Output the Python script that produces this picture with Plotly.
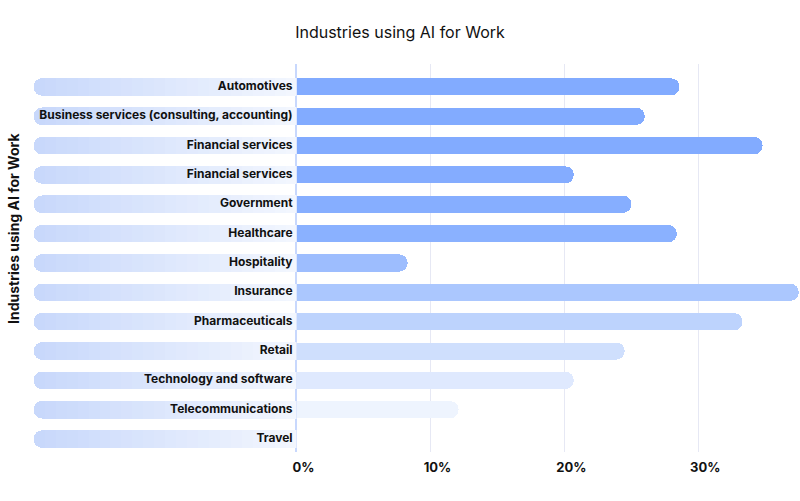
import plotly.graph_objects as go

title = "Industries using AI for Work"
axis_title = "Industries using AI for Work"
categories = [
    "Automotives",
    "Business services (consulting, accounting)",
    "Financial services",
    "Financial services (2)",
    "Government",
    "Healthcare",
    "Hospitality",
    "Insurance",
    "Pharmaceuticals",
    "Retail",
    "Technology and software",
    "Telecommunications",
    "Travel",
]
labels = [
    "Automotives",
    "Business services (consulting, accounting)",
    "Financial services",
    "Financial services",
    "Government",
    "Healthcare",
    "Hospitality",
    "Insurance",
    "Pharmaceuticals",
    "Retail",
    "Technology and software",
    "Telecommunications",
    "Travel",
]
values = [28.6, 26.0, 34.8, 20.7, 25.0, 28.4, 8.3, 37.5, 33.3, 24.5, 20.7, 12.1, 0.0]
bar_colors = [
    "#82abff", "#82abff", "#82abff", "#84acff", "#86aeff", "#8ab1ff",
    "#9dbdfe", "#abc7fe", "#bdd3fd", "#cfdffd", "#dfe9fe", "#eef4fe", "#f6f9ff",
]
tick_vals = [0, 10, 20, 30]
tick_text = ["0%", "10%", "20%", "30%"]

FONT = "Inter, Noto Sans, sans-serif"

fig = go.Figure()

# background pill behind each label, built from stacked segments for a gradient
n_seg = 24
left_rgb = (0xC8, 0xD8, 0xFB)
right_rgb = (0xF2, 0xF6, 0xFE)
for i in range(n_seg):
    t = i / (n_seg - 1)
    rgb = tuple(round(right_rgb[k] + (left_rgb[k] - right_rgb[k]) * t) for k in range(3))
    fig.add_trace(go.Bar(
        y=categories, x=[1.0 / n_seg] * len(categories), orientation="h",
        xaxis="x2", yaxis="y",
        marker=dict(color="rgb(%d,%d,%d)" % rgb, line=dict(width=0),
                    cornerradius=9),
        width=0.6, hoverinfo="skip", showlegend=False,
    ))

# category labels sitting on the pills
fig.add_trace(go.Scatter(
    y=categories, x=[0.015] * len(categories),
    xaxis="x2", yaxis="y", mode="text",
    text=labels, textposition="middle left",
    textfont=dict(family=FONT, size=12, color="#111111", weight="bold"),
    hoverinfo="skip", showlegend=False,
))

fig.add_trace(go.Bar(
    y=categories, x=values, orientation="h",
    xaxis="x", yaxis="y",
    marker=dict(color=bar_colors, line=dict(width=0), cornerradius=9),
    width=0.58, showlegend=False,
    customdata=labels,
    hovertemplate="%{customdata}: %{x}%<extra></extra>",
))

fig.update_layout(
    width=800, height=501,
    margin=dict(l=0, r=0, t=64, b=49),
    paper_bgcolor="white", plot_bgcolor="white",
    barmode="stack",
    font=dict(family=FONT, color="#111111"),
    title=dict(text=title, x=0.5, xanchor="center", y=0.936, yanchor="middle",
               font=dict(family=FONT, size=16, color="#111111")),
    xaxis=dict(
        domain=[294 / 800, 1.0], range=[0, 37.6],
        tickvals=tick_vals, ticktext=tick_text,
        showgrid=True, gridcolor="#e6e8f4", gridwidth=1,
        zeroline=False, showline=False, ticks="",
        tickfont=dict(family=FONT, size=13, color="#111111", weight="bold"),
        ticklabelshift=7, ticklabelstandoff=6,
        fixedrange=True,
    ),
    xaxis2=dict(
        domain=[30 / 800, 294 / 800], range=[1.0, 0.0],
        anchor="y", showgrid=False, zeroline=False, showline=False,
        showticklabels=False, ticks="", fixedrange=True,
    ),
    yaxis=dict(
        anchor="x", categoryorder="array", categoryarray=categories,
        range=[12.44, -0.78],
        showgrid=False, zeroline=False,
        showline=True, linecolor="#c8d8fd", linewidth=2,
        ticks="", showticklabels=False,
        fixedrange=True,
    ),
    annotations=[dict(
        text=axis_title, xref="paper", yref="paper",
        x=9 / 800, y=(452 - 228) / 388, xanchor="center", yanchor="middle",
        textangle=-90, showarrow=False,
        font=dict(family=FONT, size=14, color="#111111", weight="bold"),
    )],
)

fig.write_html("out.html", config={"displayModeBar": False},
               post_script="document.body.style.margin='0';")
